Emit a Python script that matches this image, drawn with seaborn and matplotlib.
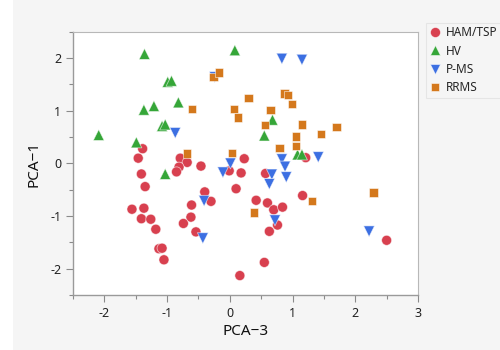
import pandas as pd
import matplotlib
matplotlib.use("Agg")
import matplotlib.pyplot as plt
import seaborn as sns
from matplotlib.patches import Rectangle
from matplotlib.ticker import MultipleLocator

# Values (PCA-3 on x, PCA-1 on y)
groups = ["HAM/TSP", "HV", "P-MS", "RRMS"]

ham_x = [-1.39, -1.46, -1.41, -1.35, -1.56, -1.37, -1.41, -1.26, -1.18, -1.13,
         -1.08, -1.05, -0.79, -0.68, -0.81, -0.85, -0.46, -0.40, -0.30, -0.61,
         -0.62, -0.74, -0.54, 0.23, -0.01, 0.18, 0.10, 0.16, 0.42, 0.55,
         1.21, 0.57, 1.16, 0.60, 0.70, 0.84, 0.76, 0.63, 2.50]
ham_y = [0.28, 0.10, -0.20, -0.44, -0.87, -0.85, -1.05, -1.06, -1.25, -1.62,
         -1.61, -1.83, 0.10, 0.02, -0.07, -0.16, -0.05, -0.54, -0.72, -0.79,
         -1.02, -1.14, -1.30, 0.09, -0.14, -0.18, -0.48, -2.13, -0.70, -1.88,
         0.11, -0.19, -0.61, -0.75, -0.88, -0.83, -1.17, -1.29, -1.46]

hv_x = [-1.36, -0.99, -0.93, -1.37, -1.21, -0.82, -1.08, -1.03, -2.09, -1.49,
        0.08, 0.68, 0.55, 1.08, 1.15, -1.03]
hv_y = [2.08, 1.55, 1.57, 1.02, 1.09, 1.16, 0.71, 0.74, 0.54, 0.40,
        2.15, 0.83, 0.53, 0.17, 0.17, -0.20]

pms_x = [-0.87, -0.24, 0.01, -0.11, -0.41, -0.43, 0.83, 1.15, 0.83, 0.88,
         0.67, 0.90, 0.63, 0.72, 1.41, 2.22]
pms_y = [0.58, 1.64, 0.00, -0.17, -0.71, -1.42, 1.99, 1.97, 0.08, -0.06,
         -0.21, -0.26, -0.39, -1.08, 0.12, -1.29]

rrms_x = [-0.26, -0.17, 0.30, 0.07, 0.13, 0.87, 0.93, 0.99, 0.65, 0.56,
          1.15, 1.05, 1.05, 0.79, -0.60, 0.03, -0.68, 1.45, 1.70, 2.29,
          1.31, 0.39]
rrms_y = [1.64, 1.73, 1.24, 1.04, 0.87, 1.33, 1.30, 1.13, 1.01, 0.73,
          0.74, 0.51, 0.33, 0.29, 1.04, 0.20, 0.19, 0.56, 0.69, -0.55,
          -0.71, -0.93]

colors = {"HAM/TSP": "#D8404F", "HV": "#35A638", "P-MS": "#3C6FE2", "RRMS": "#D4781C"}
markers = {"HAM/TSP": "o", "HV": "^", "P-MS": "v", "RRMS": "s"}
sizes = {"HAM/TSP": 52, "HV": 62, "P-MS": 62, "RRMS": 36}

frames = []
for g, xs, ys in zip(groups, [ham_x, hv_x, pms_x, rrms_x], [ham_y, hv_y, pms_y, rrms_y]):
    frames.append(pd.DataFrame({"PCA-3": xs, "PCA-1": ys, "group": g}))
df = pd.concat(frames, ignore_index=True)

sns.set_style("white")
plt.rcParams["font.family"] = ["Noto Sans", "DejaVu Sans"]
plt.rcParams["axes.unicode_minus"] = False

bg = "#f5f5f5"
fig = plt.figure(figsize=(5, 3.5), dpi=100, facecolor=bg)
fig.patches.append(Rectangle((0, 0), 0.026, 1, transform=fig.transFigure,
                             facecolor="white", edgecolor="none", zorder=-1))
ax = fig.add_axes([0.146, 0.157, 0.690, 0.752])
ax.set_facecolor("white")

sns.scatterplot(data=df, x="PCA-3", y="PCA-1", hue="group", style="group",
                size="group", palette=colors, markers=markers, sizes=sizes,
                hue_order=groups, style_order=groups, size_order=groups,
                edgecolor=(1, 1, 1, 0.6), linewidth=0.6, ax=ax)

ax.set_xlim(-2.5, 3)
ax.set_ylim(-2.5, 2.5)
ax.xaxis.set_major_locator(MultipleLocator(1))
ax.xaxis.set_minor_locator(MultipleLocator(0.5))
ax.yaxis.set_major_locator(MultipleLocator(1))
ax.yaxis.set_minor_locator(MultipleLocator(0.5))
ax.tick_params(which="both", direction="out", color="#8a8a8a", labelsize=9,
               labelcolor="#222222")
ax.tick_params(which="major", length=5, width=0.8)
ax.tick_params(which="minor", length=3, width=0.8)
ax.tick_params(axis="x", which="both", bottom=True)
ax.tick_params(axis="y", which="both", left=True)

for side in ["left", "bottom"]:
    ax.spines[side].set_color("#9a9a9a")
    ax.spines[side].set_linewidth(1.0)
for side in ["top", "right"]:
    ax.spines[side].set_color("#b8b8b8")
    ax.spines[side].set_linewidth(0.8)

ax.set_xlabel("PCA\u22123", fontsize=11, color="#111111", labelpad=3)
ax.set_ylabel("PCA\u22121", fontsize=11, color="#111111", labelpad=6)

handles, labels = ax.get_legend_handles_labels()
leg = ax.legend(handles, labels, loc="upper left", bbox_to_anchor=(0.852, 0.935),
                bbox_transform=fig.transFigure, frameon=True, fontsize=8.5,
                handlelength=1.0, handletextpad=0.35, labelspacing=0.45,
                borderpad=0.3, borderaxespad=0, markerscale=1.0, fancybox=False)
leg.get_frame().set_edgecolor("#e2e2e2")
leg.get_frame().set_facecolor(bg)
leg.get_frame().set_linewidth(0.8)

fig.savefig("out.png", dpi=100, facecolor=bg)
